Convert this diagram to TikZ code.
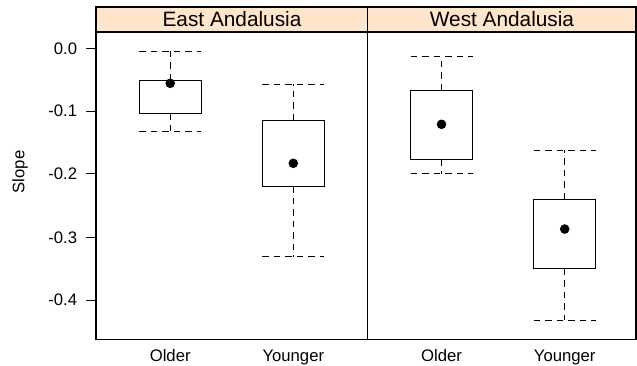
\documentclass[tikz,border=0pt]{standalone}
\usepackage{fontspec}
\setmainfont{Liberation Sans}
\definecolor{stripbg}{HTML}{FFE5CC}
\newcommand\mybw[7]{% name, cx, whisker top, box top, dot, box bottom, whisker bottom
  \draw[whisk] (#2-31,#3) -- (#2+31,#3);
  \draw[whisk] (#2-31,#7) -- (#2+31,#7);
  \draw[whisk] (#2,#4) -- (#2,#3);
  \draw[whisk] (#2,#6) -- (#2,#7);
  \draw[boxst] (#2-31,#4) rectangle (#2+31,#6);
  \fill[black] (#2,#5) circle[radius=4.8];
  \coordinate (#1) at (#2,#5);
}
\begin{document}
\begin{tikzpicture}[x=1bp,y=-1bp,
  frame/.style={line width=1.3bp, draw=black},
  boxst/.style={line width=1bp, draw=black},
  whisk/.style={line width=1bp, dash pattern=on 6.5bp off 5bp},
  tk/.style={line width=1bp},
  lab/.style={font=\fontsize{16.7bp}{18bp}\selectfont, inner sep=0pt},
  striplab/.style={font=\fontsize{20.8bp}{22bp}\selectfont, inner sep=0pt}]
\useasboundingbox (0,0) rectangle (637,365);
% strips
\fill[stripbg] (96,7) rectangle (636,32);
% panels
\draw[frame] (96,7) rectangle (636,339.3);
\draw[frame] (96,32) -- (636,32);
\draw[frame] (367.7,7) -- (367.7,339.3);
\node[striplab, anchor=base] (sE) at (232,26.7) {East Andalusia};
\node[striplab, anchor=base] (sW) at (502,26.7) {West Andalusia};
% y axis
\foreach \v/\y [count=\i] in {0.0/48.3,-0.1/111,-0.2/173.7,-0.3/237.3,-0.4/300}{
  \draw[tk] (86,\y) -- (96,\y);
  \node[lab, anchor=base east] (yt\i) at (77.3,\y+5.8) {\v};
}
\node[lab, rotate=90] (ylab) at (20,172) {Slope};
% x labels
\node[lab, anchor=base] (xEO) at (170.2,361.7) {Older};
\node[lab, anchor=base] (xEY) at (293.3,361.7) {Younger};
\node[lab, anchor=base] (xWO) at (441.5,361.7) {Older};
\node[lab, anchor=base] (xWY) at (564.7,361.7) {Younger};
% boxes
\mybw{bEO}{170.2}{51}{80}{83.3}{113}{131}
\mybw{bEY}{293.3}{84}{120.3}{163.3}{186}{256.7}
\mybw{bWO}{441.5}{56.7}{90}{124.3}{159.3}{173.7}
\mybw{bWY}{564.7}{150}{199.3}{229}{268.7}{320}
\end{tikzpicture}
\end{document}
